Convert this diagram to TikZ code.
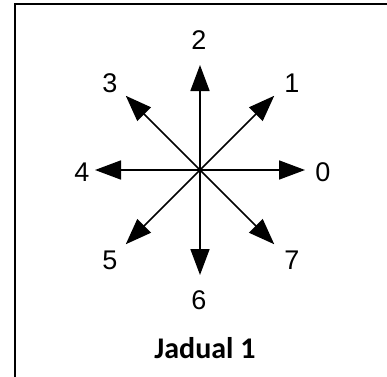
\documentclass[tikz,border=0pt]{standalone}
\usepackage{fontspec}
\setmainfont{Liberation Sans}
\newfontfamily\capfont{Carlito}
\usetikzlibrary{arrows.meta,calc}
\begin{document}
\begin{tikzpicture}[x=1pt,y=-1pt,
  dirarrow/.style={line width=1.7pt,-{Triangle[length=26pt,width=19pt]}},
  dirlabel/.style={font=\fontsize{27}{30}\selectfont,inner sep=0pt},
  frameline/.style={line width=2.2pt}]
\useasboundingbox (0,0) rectangle (387,376);
\draw[frameline] (15,377) -- (15,4) -- (388,4);
\coordinate (c) at (200,170);
\foreach \k/\a in {0/0,1/45,2/90,3/135,4/180,5/225,6/270,7/315}{
  \coordinate (t\k) at ($(c)+(-\a:105)$);
}
\foreach \k in {0,...,7}{\draw[dirarrow] (c) -- (t\k);}
\node[dirlabel] (l0) at (323,172) {0};
\node[dirlabel] (l1) at (292,83) {1};
\node[dirlabel] (l2) at (199,40) {2};
\node[dirlabel] (l3) at (110,83) {3};
\node[dirlabel] (l4) at (82,172) {4};
\node[dirlabel] (l5) at (110,260) {5};
\node[dirlabel] (l6) at (199,300) {6};
\node[dirlabel] (l7) at (292,260) {7};
\node[font=\capfont\bfseries\fontsize{30}{34}\selectfont,inner sep=0pt] (cap) at (205,348) {Jadual 1};
\end{tikzpicture}
\end{document}
